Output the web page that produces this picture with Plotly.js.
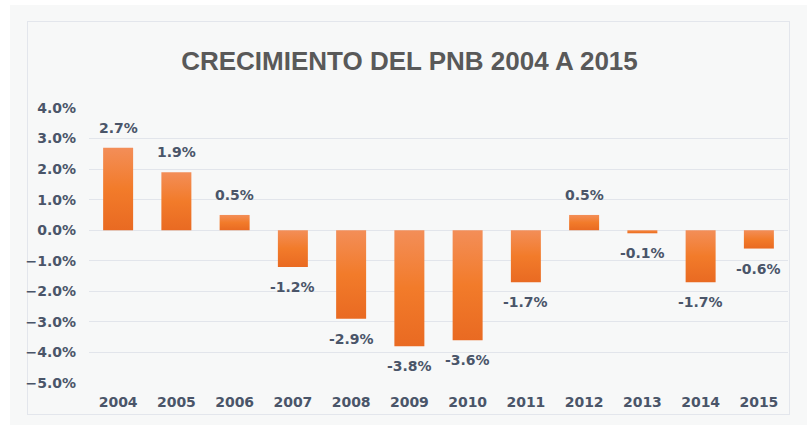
<!DOCTYPE html>
<html>
<head>
<meta charset="utf-8">
<script src="https://cdn.plot.ly/plotly-3.0.1.min.js"></script>
<style>
  html, body { margin: 0; padding: 0; background: #ffffff; }
  #wrap { position: relative; width: 807px; height: 425px; overflow: hidden; background: #ffffff; }
  #bg { position: absolute; left: 10px; top: 5px; right: 0; bottom: 0; background: #f7f8f8; }
  #frame { position: absolute; left: 27px; top: 21px; width: 761px; height: 392px; border: 1px solid #e3e6ec; }
  #chart { position: absolute; left: 0; top: 0; width: 807px; height: 425px; }
</style>
</head>
<body>
<div id="wrap">
  <div id="bg"></div>
  <div id="frame"></div>
  <div id="chart"></div>
</div>
<script>
const years = ['2004','2005','2006','2007','2008','2009','2010','2011','2012','2013','2014','2015'];
const growth = [2.7, 1.9, 0.5, -1.2, -2.9, -3.8, -3.6, -1.7, 0.5, -0.1, -1.7, -0.6];
const titleText = 'CRECIMIENTO DEL PNB 2004 A 2015';

const labelColor = '#4a5569';
const labelFont = { family: 'DejaVu Sans, sans-serif', size: 14, color: labelColor, weight: 'bold' };

const annotations = years.map((yr, i) => ({
  x: i, y: growth[i], xref: 'x', yref: 'y',
  text: '<b>' + growth[i].toFixed(1) + '%</b>',
  showarrow: false, yanchor: 'middle', xanchor: 'center',
  yshift: growth[i] >= 0 ? 20 : -20,
  font: labelFont
}));

const trace = {
  type: 'bar', x: years, y: growth,
  marker: { color: '#f07a2c', line: { width: 0 } },
  hoverinfo: 'skip'
};

const layout = {
  width: 807, height: 425,
  paper_bgcolor: 'rgba(0,0,0,0)', plot_bgcolor: 'rgba(0,0,0,0)',
  margin: { l: 89, r: 19, t: 108, b: 42, pad: 0 },
  bargap: 0.485,
  showlegend: false,
  title: {
    text: '<b>' + titleText + '</b>',
    font: { family: 'Liberation Sans, Arial, sans-serif', size: 26, color: '#595959' },
    x: 409.5 / 807, xanchor: 'center', xref: 'container',
    y: 1 - 61 / 425, yanchor: 'middle', yref: 'container'
  },
  xaxis: {
    type: 'category', showgrid: false, zeroline: false, showline: false,
    range: [-0.5, years.length - 0.5],
    ticks: '', ticklabelstandoff: 9,
    tickfont: labelFont, fixedrange: true
  },
  yaxis: {
    range: [-5.0001, 4.0001], dtick: 1, tick0: 0,
    tickformat: '.1f', ticksuffix: '%',
    showgrid: true, gridcolor: '#e2e5eb', gridwidth: 1,
    zeroline: true, zerolinecolor: '#e2e5eb', zerolinewidth: 1,
    showline: false, ticks: '', ticklabelstandoff: 12,
    tickfont: labelFont, fixedrange: true
  },
  annotations: annotations
};

Plotly.newPlot('chart', [trace], layout, { displayModeBar: false, staticPlot: true }).then(gd => {
  const svg = gd.querySelector('.main-svg');
  const ns = 'http://www.w3.org/2000/svg';
  let defs = svg.querySelector('defs');
  if (!defs) { defs = document.createElementNS(ns, 'defs'); svg.insertBefore(defs, svg.firstChild); }
  const lg = document.createElementNS(ns, 'linearGradient');
  lg.setAttribute('id', 'barGrad');
  lg.setAttribute('x1', '0'); lg.setAttribute('y1', '0');
  lg.setAttribute('x2', '0'); lg.setAttribute('y2', '1');
  [['0%', '#f38e58'], ['50%', '#f27b2a'], ['100%', '#e96a22']].forEach(([o, c]) => {
    const s = document.createElementNS(ns, 'stop');
    s.setAttribute('offset', o); s.setAttribute('stop-color', c);
    lg.appendChild(s);
  });
  defs.appendChild(lg);
  gd.querySelectorAll('.bars .point path').forEach(p => { p.style.fill = 'url(#barGrad)'; });
});
</script>
</body>
</html>
